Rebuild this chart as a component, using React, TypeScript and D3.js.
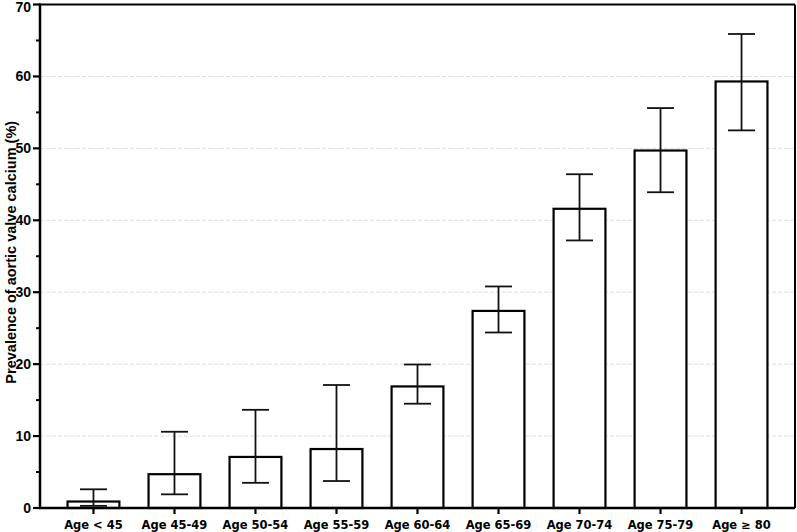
import React from "react";
import * as d3 from "d3";

const categories = ["Age < 45", "Age 45-49", "Age 50-54", "Age 55-59", "Age 60-64", "Age 65-69", "Age 70-74", "Age 75-79", "Age \u2265 80"];
const values = [0.9, 4.7, 7.1, 8.2, 16.9, 27.4, 41.6, 49.7, 59.3];
const lower = [0.3, 1.9, 3.5, 3.75, 14.5, 24.4, 37.2, 43.9, 52.5];
const upper = [2.6, 10.6, 13.65, 17.1, 19.95, 30.8, 46.4, 55.6, 65.9];
const majorTicks = [0, 10, 20, 30, 40, 50, 60, 70];
const minorTicks = [5, 15, 25, 35, 45, 55, 65];

const W = 797;
const H = 532;
const left = 40;
const right = 795;
const top = 4.5;
const bottom = 508;

export default function App() {
  const x = d3.scaleBand<string>().domain(categories).range([left, right]).paddingInner(0.36).paddingOuter(0.34);
  const y = d3.scaleLinear().domain([0, 70]).range([bottom, top]);
  const bw = x.bandwidth();
  const cap = 27;
  const tickFont = "'Liberation Sans', Arial, sans-serif";
  const xFont = "'DejaVu Sans', Verdana, sans-serif";
  return (
    <svg width={W} height={H} style={{ position: "absolute", left: 0, top: 0, background: "#fff" }}>
      {majorTicks.filter((t) => t > 0 && t < 70).map((t) => (
        <line key={"g" + t} x1={left} x2={right} y1={y(t)} y2={y(t)} stroke="#dcdcdc" strokeWidth={1} strokeDasharray="4,2" />
      ))}
      {categories.map((c, i) => {
        const cx = (x(c) as number) + bw / 2;
        return (
          <g key={c}>
            <rect x={x(c)} y={y(values[i])} width={bw} height={y(0) - y(values[i])} fill="#fff" stroke="#000" strokeWidth={2.2} />
            <line x1={cx} x2={cx} y1={y(lower[i])} y2={y(upper[i])} stroke="#111" strokeWidth={1.8} />
            <line x1={cx - cap / 2} x2={cx + cap / 2} y1={y(upper[i])} y2={y(upper[i])} stroke="#111" strokeWidth={1.8} />
            <line x1={cx - cap / 2} x2={cx + cap / 2} y1={y(lower[i])} y2={y(lower[i])} stroke="#111" strokeWidth={1.8} />
            <line x1={cx} x2={cx} y1={bottom} y2={bottom + 6} stroke="#000" strokeWidth={2.2} />
            <text x={cx} y={528.5} textAnchor="middle" fontFamily={xFont} fontWeight="bold" fontSize={11.5} fill="#000">{c}</text>
          </g>
        );
      })}
      <line x1={left} x2={right} y1={top} y2={top} stroke="#000" strokeWidth={2} />
      <line x1={right} x2={right} y1={top} y2={bottom} stroke="#000" strokeWidth={2} />
      <line x1={left} x2={left} y1={top - 1} y2={bottom + 1} stroke="#000" strokeWidth={2.5} />
      <line x1={left - 1} x2={right} y1={bottom} y2={bottom} stroke="#000" strokeWidth={2.5} />
      {majorTicks.map((t) => (
        <g key={"t" + t}>
          <line x1={left - 7} x2={left} y1={y(t)} y2={y(t)} stroke="#000" strokeWidth={2.2} />
          <text x={31} y={Math.max(y(t), 7.5)} dy="0.35em" textAnchor="end" fontFamily={tickFont} fontWeight="bold" fontSize={14} fill="#000">{t}</text>
        </g>
      ))}
      {minorTicks.map((t) => (
        <line key={"m" + t} x1={left - 4} x2={left} y1={y(t)} y2={y(t)} stroke="#000" strokeWidth={2} />
      ))}
      <text transform={`translate(15.5,${(top + bottom) / 2 - 4}) rotate(-90)`} textAnchor="middle" fontFamily={tickFont} fontWeight="bold" fontSize={14.5} fill="#000">
        Prevalence of aortic valve calcium (%)
      </text>
    </svg>
  );
}
